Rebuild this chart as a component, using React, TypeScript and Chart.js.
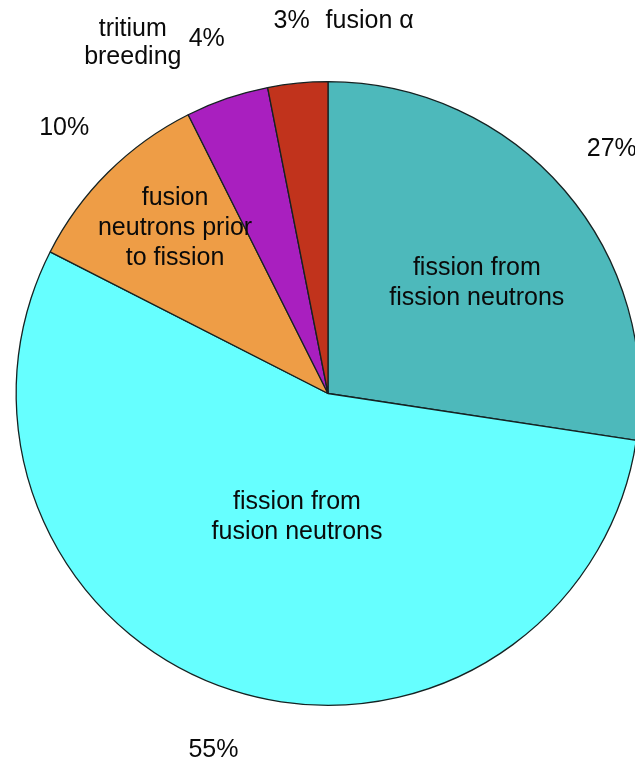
import React, { useEffect, useRef } from "react";
import { Chart, registerables } from "chart.js";

Chart.register(...registerables);

const categories = [
  "fission from fission neutrons",
  "fission from fusion neutrons",
  "fusion neutrons prior to fission",
  "tritium breeding",
  "fusion α",
];
const values = [27.4, 55.1, 10.1, 4.3, 3.1];
const colors = ["#4DB9BB", "#66FFFF", "#EE9D46", "#A91FBF", "#C1331C"];
const innerLines: string[][] = [
  ["fission from", "fission neutrons"],
  ["fission from", "fusion neutrons"],
  ["fusion", "neutrons prior", "to fission"],
  [],
  [],
];
// inner label placement: [fraction of radius, angle offset in degrees from slice mid-angle]
const innerPlace: number[][] = [
  [0.595, 4],
  [0.41, -3.8],
  [0.723, 2.1],
  [0, 0],
  [0, 0],
];
// outside name labels next to the percentage
const outerNames: { lines: string[]; dx: number; dy: number; align: CanvasTextAlign }[] = [
  { lines: [], dx: 0, dy: 0, align: "center" },
  { lines: [], dx: 0, dy: 0, align: "center" },
  { lines: [], dx: 0, dy: 0, align: "center" },
  { lines: ["tritium", "breeding"], dx: -74, dy: -10, align: "center" },
  { lines: ["fusion α"], dx: 34, dy: 0, align: "left" },
];

const FONT = '25px "Liberation Sans", Arial, sans-serif';
const TEXT = "#0a0a0a";
const LINE_H = 30;

const labelPlugin = {
  id: "pieLabels",
  afterDraw(chart: any) {
    const ctx = chart.ctx;
    const meta = chart.getDatasetMeta(0);
    const data = chart.data.datasets[0].data as number[];
    const total = data.reduce((a, b) => a + b, 0);
    ctx.save();
    ctx.font = FONT;
    ctx.fillStyle = TEXT;
    ctx.textBaseline = "middle";
    meta.data.forEach((arc: any, i: number) => {
      const { x, y, startAngle, endAngle, outerRadius } = arc.getProps(
        ["x", "y", "startAngle", "endAngle", "outerRadius"],
        true
      );
      const mid = (startAngle + endAngle) / 2;
      // percentage label
      const px = x + Math.cos(mid) * outerRadius * 1.2;
      const py = y + Math.sin(mid) * outerRadius * 1.2;
      ctx.textAlign = "center";
      ctx.fillText(Math.round((data[i] / total) * 100) + "%", px, py);
      // outside names
      const on = outerNames[i];
      ctx.textAlign = on.align;
      on.lines.forEach((ln, k) => {
        ctx.fillText(ln, px + on.dx, py + on.dy + k * 28);
      });
      // inner labels
      const lines = innerLines[i];
      if (lines.length) {
        const [frac, offDeg] = innerPlace[i];
        const a = mid + (offDeg * Math.PI) / 180;
        const cx = x + Math.cos(a) * outerRadius * frac;
        const cy = y + Math.sin(a) * outerRadius * frac;
        ctx.textAlign = "center";
        const h = (lines.length - 1) * LINE_H;
        lines.forEach((ln, k) => {
          ctx.fillText(ln, cx, cy - h / 2 + k * LINE_H);
        });
      }
    });
    ctx.restore();
  },
};

export default function App() {
  const ref = useRef<HTMLCanvasElement | null>(null);
  useEffect(() => {
    if (!ref.current) return;
    const chart = new Chart(ref.current, {
      type: "pie",
      data: {
        labels: categories,
        datasets: [
          {
            data: values,
            backgroundColor: colors,
            borderColor: "#152222",
            borderWidth: 1.3,
            hoverOffset: 0,
            offset: 0,
          },
        ],
      },
      options: {
        responsive: false,
        animation: false,
        devicePixelRatio: 1,
        layout: { padding: { left: 15, top: 81, right: 79, bottom: 63 } },
        plugins: {
          legend: { display: false },
          tooltip: { enabled: false },
          title: { display: false },
        },
      },
      plugins: [labelPlugin],
    });
    return () => chart.destroy();
  }, []);
  return (
    <div
      style={{
        position: "fixed",
        left: 0,
        top: 0,
        width: 635,
        height: 769,
        overflow: "hidden",
        background: "#ffffff",
      }}
    >
      <canvas ref={ref} width={720} height={769} style={{ display: "block", width: 720, height: 769 }} />
    </div>
  );
}
